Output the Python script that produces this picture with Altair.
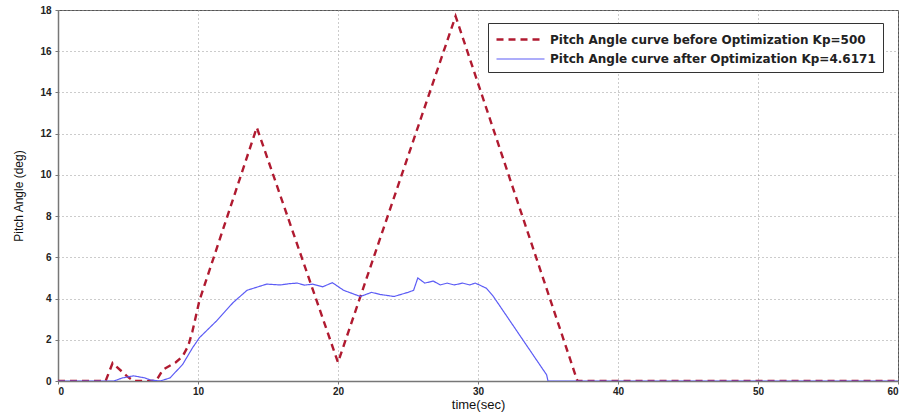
import altair as alt
import pandas as pd

# Before optimization (Kp=500)
t_before = [0, 3.4, 3.9, 4.9, 5.4, 7.0, 7.5, 8.4, 8.9, 9.3, 9.6, 10.1, 14.2, 20.0, 28.4, 37.1, 60]
v_before = [0, 0, 0.87, 0.25, 0, 0, 0.55, 0.9, 1.2, 1.7, 2.4, 3.9, 12.3, 0.9, 17.7, 0, 0]

# After optimization (Kp=4.6171)
t_after = [0, 4.0, 4.6, 5.4, 6.2, 6.6, 7.3, 8.0, 8.9, 9.6, 10.1, 11.3, 12.5, 13.5, 14.9,
           15.9, 16.5, 17.1, 17.6, 18.2, 18.9, 19.6, 20.4, 21.0, 21.6, 22.4, 23.0, 24.0,
           25.0, 25.4, 25.7, 26.2, 26.8, 27.3, 27.8, 28.3, 28.9, 29.4, 29.8, 30.1, 30.6,
           31.1, 33.2, 34.9, 35.0, 60]
v_after = [0, 0, 0.15, 0.25, 0.15, 0.05, 0.0, 0.15, 0.8, 1.6, 2.1, 2.9, 3.8, 4.4, 4.7,
           4.66, 4.72, 4.75, 4.65, 4.7, 4.57, 4.77, 4.4, 4.25, 4.1, 4.3, 4.2, 4.1,
           4.3, 4.4, 5.0, 4.75, 4.85, 4.66, 4.75, 4.66, 4.75, 4.66, 4.75, 4.66, 4.5,
           4.1, 2.0, 0.3, 0, 0]

s_before = "Pitch Angle curve before Optimization Kp=500"
s_after = "Pitch Angle curve after Optimization Kp=4.6171"

x_ticks = [0, 10, 20, 30, 40, 50, 60]
y_ticks = [0, 2, 4, 6, 8, 10, 12, 14, 16, 18]

df = pd.concat([
    pd.DataFrame({"t": t_before, "v": v_before, "series": s_before, "order": range(len(t_before))}),
    pd.DataFrame({"t": t_after, "v": v_after, "series": s_after, "order": range(len(t_after))}),
])

domain = [s_before, s_after]

chart = alt.Chart(df).mark_line(clip=True).encode(
    x=alt.X("t:Q", title="time(sec)",
            scale=alt.Scale(domain=[0, 60], nice=False, zero=False),
            axis=alt.Axis(values=x_ticks, format="d")),
    y=alt.Y("v:Q", title="Pitch Angle (deg)",
            scale=alt.Scale(domain=[0, 18], nice=False),
            axis=alt.Axis(values=y_ticks, format="d")),
    color=alt.Color("series:N", title=None,
                    scale=alt.Scale(domain=domain, range=["#b01a30", "#5c5cf5"]),
                    legend=alt.Legend(orient="none", legendX=430, legendY=13)),
    strokeDash=alt.StrokeDash("series:N", title=None,
                              scale=alt.Scale(domain=domain, range=[[7, 5], [1, 0]])),
    strokeWidth=alt.StrokeWidth("series:N", title=None,
                                scale=alt.Scale(domain=domain, range=[2.4, 1.2])),
    detail="series:N",
    order="order:Q",
).properties(
    width=840, height=371,
    padding={"left": 58, "top": 10, "right": 4, "bottom": 33},
    autosize=alt.AutoSizeParams(type="none"),
).configure_view(
    stroke="#555555", strokeWidth=1
).configure_axis(
    grid=True, gridColor="#999999", gridDash=[1, 3], gridWidth=1,
    domainColor="#777777", domainWidth=1.5,
    ticks=True, tickSize=3, tickColor="#777777",
    labelFont="Liberation Sans", labelFontWeight="bold", labelFontSize=10, labelColor="#222222",
    titleFont="Liberation Sans", titleFontWeight="normal", titleColor="#111111",
).configure_axisX(
    labelPadding=2, titleFontSize=13, titlePadding=2,
).configure_axisY(
    labelPadding=4, titleFontSize=12, titlePadding=14,
).configure_legend(
    strokeColor="#333333", fillColor="white", padding=7,
    symbolType="M-1,0H5", symbolSize=256, symbolStrokeWidth=1.5,
    labelFont="DejaVu Sans", labelFontWeight="bold", labelFontSize=12, labelColor="#222222",
    labelLimit=600, labelOffset=36, rowPadding=4, cornerRadius=0,
)

chart.save("out.html", embed_options={"renderer": "svg", "actions": False})
